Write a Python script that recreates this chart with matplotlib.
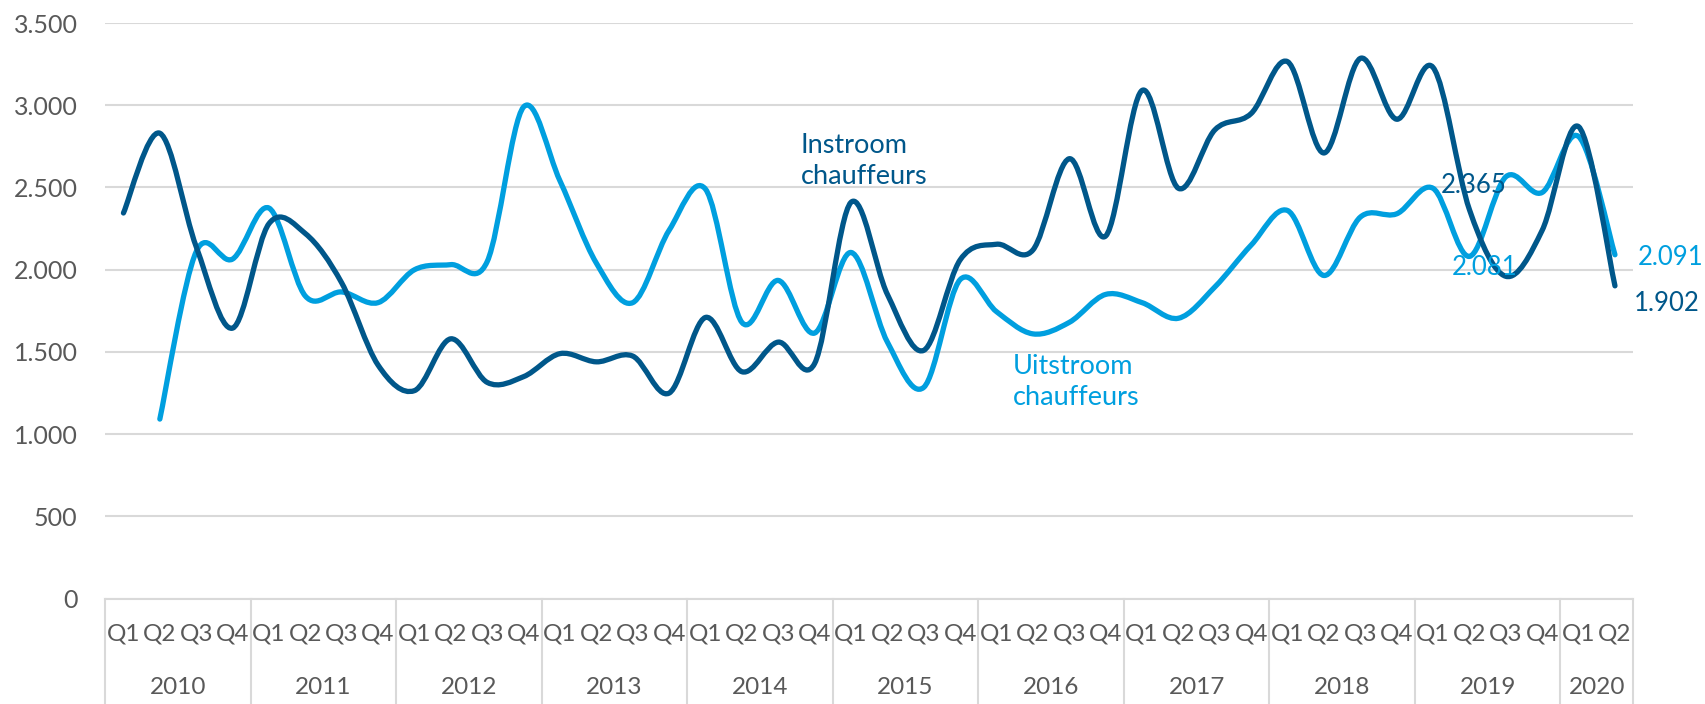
import numpy as np
import matplotlib.pyplot as plt
from matplotlib.path import Path
from matplotlib.patches import PathPatch
from matplotlib.transforms import blended_transform_factory

plt.rcParams['font.family'] = ['Lato', 'DejaVu Sans']

## data
years = ['2010', '2011', '2012', '2013', '2014', '2015', '2016', '2017', '2018', '2019', '2020']
quarters = ['Q1', 'Q2', 'Q3', 'Q4'] * 10 + ['Q1', 'Q2']

instroom = [2345, 2830, 2140, 1645, 2280, 2220, 1920, 1420, 1265, 1580,
            1315, 1350, 1490, 1440, 1475, 1250, 1710, 1380, 1560, 1430,
            2410, 1850, 1510, 2060, 2155, 2120, 2675, 2205, 3090, 2495,
            2850, 2950, 3265, 2710, 3285, 2915, 3230, 2365, 1960, 2240,
            2870, 1902]
# uitstroom starts in Q2 2010
uitstroom = [None, 1092, 2110, 2065, 2375, 1840, 1865, 1800, 2000, 2031,
             2050, 2990, 2540, 2040, 1800, 2240, 2490, 1680, 1935, 1615,
             2105, 1560, 1285, 1940, 1745, 1610, 1680, 1850, 1800, 1705,
             1895, 2150, 2360, 1965, 2320, 2340, 2495, 2081, 2565, 2470,
             2810, 2091]

dark = '#00578A'
light = '#009FDF'
grey = '#595959'
grid = '#D9D9D9'


def smooth_path(xs, ys):
    # excel-like smoothing: cubic bezier through all points
    pts = np.column_stack([xs, ys]).astype(float)
    n = len(pts)
    verts = [pts[0]]
    codes = [Path.MOVETO]
    for i in range(n - 1):
        p0 = pts[i - 1] if i > 0 else pts[i]
        p1 = pts[i]
        p2 = pts[i + 1]
        p3 = pts[i + 2] if i + 2 < n else pts[i + 1]
        c1 = p1 + (p2 - p0) / 6
        c2 = p2 - (p3 - p1) / 6
        verts += [c1, c2, p2]
        codes += [Path.CURVE4] * 3
    return Path(verts, codes)


fig = plt.figure(figsize=(17.06, 7.04), dpi=100)
ax = fig.add_axes([0.0617, 0.1496, 0.8956, 0.8177])

x_in = np.arange(len(instroom))
ax.add_patch(PathPatch(smooth_path(x_in, instroom), fill=False, edgecolor=dark,
                       lw=3.8, capstyle='round', joinstyle='round', zorder=3))
x_out = [i for i, v in enumerate(uitstroom) if v is not None]
y_out = [v for v in uitstroom if v is not None]
ax.add_patch(PathPatch(smooth_path(x_out, y_out), fill=False, edgecolor=light,
                       lw=3.8, capstyle='round', joinstyle='round', zorder=2))

ax.set_xlim(-0.5, len(quarters) - 0.5)
ax.set_ylim(0, 3500)
ax.set_yticks(np.arange(0, 3501, 500))
ax.set_yticklabels([f"{v:,.0f}".replace(',', '.') for v in np.arange(0, 3501, 500)])
ax.yaxis.grid(True, color=grid, lw=1.5)
ax.set_axisbelow(True)
for s in ['top', 'right', 'left']:
    ax.spines[s].set_visible(False)
ax.spines['bottom'].set_color(grid)
ax.spines['bottom'].set_linewidth(1.5)

ax.set_xticks(x_in)
ax.set_xticklabels(quarters)
ax.tick_params(axis='x', length=0, pad=18, labelsize=17.5, colors=grey)
ax.tick_params(axis='y', length=0, pad=20, labelsize=18, colors=grey)

trans = blended_transform_factory(ax.transData, ax.transAxes)
bounds = [-0.5] + [4 * k + 3.5 for k in range(10)] + [len(quarters) - 0.5]
for b in bounds:
    ax.plot([b, b], [0, -0.185], transform=trans, color=grid, lw=1.5, clip_on=False)
for k, yr in enumerate(years):
    ax.text((bounds[k] + bounds[k + 1]) / 2, -0.155, yr, transform=trans,
            ha='center', va='center', fontsize=17.5, color=grey)

# series labels
ax.text(18.62, 2662, 'Instroom\nchauffeurs', color=dark, fontsize=19.5,
        ha='left', va='center', linespacing=1.3)
ax.text(24.45, 1316, 'Uitstroom\nchauffeurs', color=light, fontsize=19.5,
        ha='left', va='center', linespacing=1.3)

# data labels
ax.text(37.13, 2513, '2.365', color=dark, fontsize=18.5, ha='center', va='center', zorder=5)
ax.text(37.43, 2015, '2.081', color=light, fontsize=18.5, ha='center', va='center', zorder=5)
ax.text(41.62, 2076, '2.091', color=light, fontsize=18.5, ha='left', va='center')
ax.text(41.52, 1796, '1.902', color=dark, fontsize=18.5, ha='left', va='center')

fig.savefig('out.png', dpi=100)
